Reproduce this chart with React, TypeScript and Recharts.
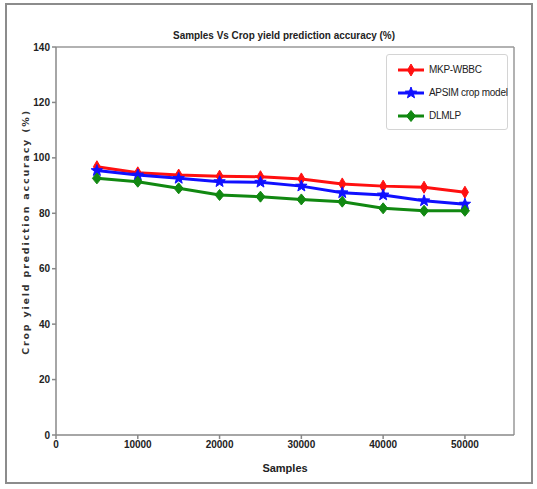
import React from 'react';
import { LineChart, Line, XAxis, YAxis, ReferenceLine, Label } from 'recharts';

const samples = [5000, 10000, 15000, 20000, 25000, 30000, 35000, 40000, 45000, 50000];
const mkpWbbc = [96.8, 94.6, 93.8, 93.4, 93.2, 92.4, 90.6, 89.8, 89.4, 87.6];
const apsim = [95.4, 93.8, 92.6, 91.4, 91.2, 89.8, 87.4, 86.6, 84.5, 83.3];
const dlmlp = [92.6, 91.4, 89.0, 86.6, 86.0, 85.0, 84.2, 81.8, 80.9, 80.9];
const xTicks = [0, 10000, 20000, 30000, 40000, 50000];
const yTicks = [0, 20, 40, 60, 80, 100, 120, 140];
const seriesNames = ['MKP-WBBC', 'APSIM crop model', 'DLMLP'];
const seriesColors = ['#ff1010', '#1010ff', '#118811'];

const data = samples.map((s, i) => ({ s, a: mkpWbbc[i], b: apsim[i], c: dlmlp[i] }));

const FONT = 'Liberation Sans, Arial, sans-serif';
const tickFont = { fontFamily: FONT, fontSize: 10, fontWeight: 'bold', fill: '#222' };

function Marker({ kind, cx, cy, color }: { kind: number; cx: number; cy: number; color: string }) {
  if (kind === 0) {
    return <polygon points={`${cx},${cy - 6} ${cx + 3.5},${cy} ${cx},${cy + 6} ${cx - 3.5},${cy}`} fill={color} stroke={color} strokeWidth={1} />;
  }
  if (kind === 1) {
    const pts: string[] = [];
    for (let k = 0; k < 10; k++) {
      const r = k % 2 === 0 ? 6 : 2.5;
      const ang = -Math.PI / 2 + (k * Math.PI) / 5;
      pts.push(`${cx + r * Math.cos(ang)},${cy + r * Math.sin(ang)}`);
    }
    return <polygon points={pts.join(' ')} fill={color} stroke={color} strokeWidth={1} />;
  }
  return <polygon points={`${cx},${cy - 5.5} ${cx + 4.5},${cy} ${cx},${cy + 5.5} ${cx - 4.5},${cy}`} fill={color} stroke={color} strokeWidth={1} />;
}

const makeDot = (kind: number, color: string) => (props: any) => {
  const { cx, cy, index } = props;
  if (cx == null || cy == null) return <g key={index} />;
  return <Marker key={index} kind={kind} cx={cx} cy={cy} color={color} />;
};

function LegendBox() {
  return (
    <div style={{ position: 'absolute', left: 386, top: 54, width: 122, height: 76, border: '1px solid #d4d4d4', borderRadius: 3, background: '#fff', boxSizing: 'border-box', paddingTop: 3 }}>
      {seriesNames.map((n, i) => (
        <div key={n} style={{ display: 'flex', alignItems: 'center', height: 23 }}>
          <svg width={40} height={16} style={{ flex: 'none' }}>
            <line x1={11} y1={8} x2={37} y2={8} stroke={seriesColors[i]} strokeWidth={3} />
            <Marker kind={i} cx={24} cy={8} color={seriesColors[i]} />
          </svg>
          <span style={{ fontFamily: FONT, fontSize: 10, color: '#222', marginLeft: 2, whiteSpace: 'nowrap', letterSpacing: -0.3 }}>{n}</span>
        </div>
      ))}
    </div>
  );
}

export default function App() {
  return (
    <div style={{ position: 'absolute', left: 0, top: 0, width: 537, height: 489, background: '#fff' }}>
      <div style={{ position: 'absolute', left: 5, top: 3, width: 528, height: 481, border: '2px solid #8c8c8c', boxSizing: 'border-box' }} />
      <div style={{ position: 'absolute', left: 0, top: 0 }}>
        <LineChart width={537} height={489} data={data} margin={{ top: 47, right: 23, bottom: 24, left: 16 }}>
          <text x={284} y={39} textAnchor="middle" textLength={222} lengthAdjust="spacingAndGlyphs"
            style={{ fontFamily: FONT, fontSize: 11, fontWeight: 'bold', fill: '#222' }}>
            Samples Vs Crop yield prediction accuracy (%)
          </text>
          <XAxis dataKey="s" type="number" domain={[0, 56000]} ticks={xTicks} allowDataOverflow
            stroke="#888" strokeWidth={1.5} tick={tickFont} tickSize={4} height={30}>
            <Label value="Samples" position="insideBottom" offset={-7} style={{ ...tickFont, fontSize: 11 }} />
          </XAxis>
          <YAxis type="number" domain={[0, 140]} ticks={yTicks} width={40}
            stroke="#888" strokeWidth={1.5} tick={tickFont} tickSize={4}>
            <Label value="Crop yield prediction accuracy (%)" angle={-90} position="center" dx={-10} dy={-9}
              style={{ fontFamily: 'DejaVu Sans, sans-serif', fontSize: 9.5, fontWeight: 'bold', fill: '#333', letterSpacing: 1.8 }} />
          </YAxis>
          <ReferenceLine y={140} stroke="#999" strokeWidth={1.5} />
          <ReferenceLine x={56000} stroke="#999" strokeWidth={1.5} />
          <Line dataKey="a" name={seriesNames[0]} stroke={seriesColors[0]} strokeWidth={3} dot={makeDot(0, seriesColors[0])} isAnimationActive={false} />
          <Line dataKey="b" name={seriesNames[1]} stroke={seriesColors[1]} strokeWidth={3} dot={makeDot(1, seriesColors[1])} isAnimationActive={false} />
          <Line dataKey="c" name={seriesNames[2]} stroke={seriesColors[2]} strokeWidth={3} dot={makeDot(2, seriesColors[2])} isAnimationActive={false} />
        </LineChart>
      </div>
      <LegendBox />
    </div>
  );
}
